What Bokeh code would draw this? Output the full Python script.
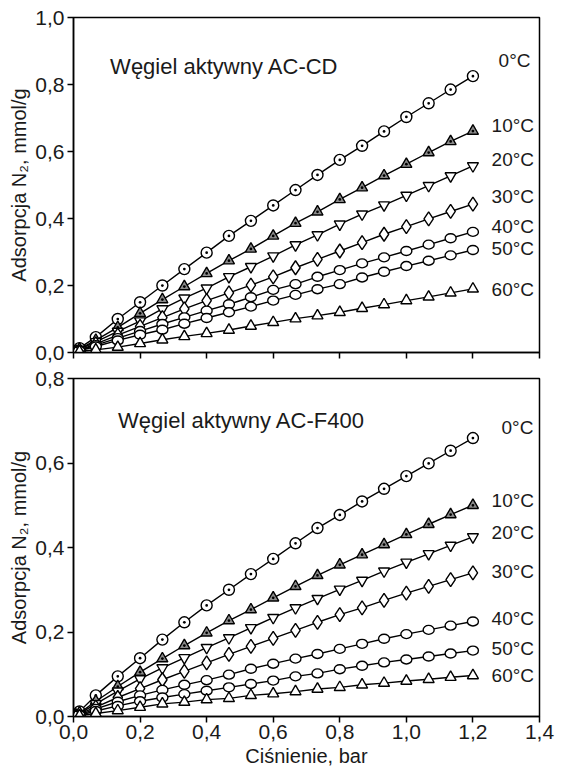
from bokeh.plotting import figure
from bokeh.layouts import column
from bokeh.models import FixedTicker, Label, ColumnDataSource
from bokeh.core.properties import value
from bokeh.embed import file_html
from bokeh.resources import INLINE

# ---------------- data ----------------
P = [0.0, 0.007, 0.018, 0.067, 0.133, 0.2, 0.267, 0.333, 0.4, 0.467, 0.533,
     0.6, 0.667, 0.733, 0.8, 0.867, 0.933, 1.0, 1.067, 1.133, 1.2]

TEMPS = ["0", "10", "20", "30", "40", "50", "60"]

CD_0 = [0, 0.005, 0.013, 0.046, 0.100, 0.150, 0.200, 0.249, 0.298, 0.348, 0.393,
        0.439, 0.485, 0.530, 0.575, 0.617, 0.660, 0.703, 0.744, 0.785, 0.825]
CD_10 = [0, 0.004, 0.010, 0.037, 0.075, 0.117, 0.158, 0.197, 0.236, 0.274, 0.309,
         0.348, 0.386, 0.420, 0.457, 0.492, 0.528, 0.562, 0.597, 0.630, 0.661]
CD_20 = [0, 0.003, 0.009, 0.032, 0.063, 0.094, 0.130, 0.162, 0.192, 0.226, 0.256,
         0.288, 0.321, 0.351, 0.383, 0.413, 0.440, 0.469, 0.498, 0.527, 0.557]
CD_30 = [0, 0.002, 0.007, 0.026, 0.052, 0.078, 0.104, 0.130, 0.155, 0.178, 0.201,
         0.226, 0.253, 0.278, 0.303, 0.328, 0.353, 0.376, 0.399, 0.421, 0.443]
CD_40 = [0, 0.002, 0.006, 0.022, 0.043, 0.064, 0.085, 0.105, 0.125, 0.144, 0.165,
         0.187, 0.204, 0.226, 0.246, 0.266, 0.284, 0.303, 0.322, 0.341, 0.360]
CD_50 = [0, 0.002, 0.005, 0.018, 0.036, 0.053, 0.068, 0.086, 0.103, 0.120, 0.137,
         0.155, 0.172, 0.189, 0.204, 0.224, 0.241, 0.258, 0.274, 0.290, 0.306]
CD_60 = [0, 0.001, 0.003, 0.008, 0.016, 0.027, 0.038, 0.048, 0.057, 0.067, 0.079,
         0.090, 0.101, 0.110, 0.120, 0.132, 0.143, 0.155, 0.166, 0.178, 0.190]

F4_0 = [0, 0.004, 0.012, 0.050, 0.095, 0.138, 0.182, 0.223, 0.263, 0.300, 0.337,
        0.373, 0.410, 0.446, 0.477, 0.509, 0.539, 0.569, 0.599, 0.629, 0.659]
F4_10 = [0, 0.003, 0.008, 0.036, 0.071, 0.105, 0.137, 0.168, 0.198, 0.227, 0.253,
         0.281, 0.308, 0.334, 0.359, 0.383, 0.407, 0.431, 0.455, 0.478, 0.500]
F4_20 = [0, 0.003, 0.007, 0.030, 0.060, 0.089, 0.115, 0.139, 0.163, 0.186, 0.210,
         0.234, 0.257, 0.279, 0.301, 0.322, 0.344, 0.365, 0.385, 0.405, 0.425]
F4_30 = [0, 0.002, 0.006, 0.022, 0.045, 0.066, 0.087, 0.107, 0.127, 0.147, 0.166,
         0.185, 0.204, 0.223, 0.241, 0.257, 0.275, 0.292, 0.308, 0.324, 0.340]
F4_40 = [0, 0.001, 0.004, 0.018, 0.035, 0.050, 0.063, 0.075, 0.086, 0.099, 0.113,
         0.125, 0.137, 0.148, 0.160, 0.172, 0.184, 0.195, 0.205, 0.215, 0.225]
F4_50 = [0, 0.001, 0.003, 0.013, 0.025, 0.036, 0.045, 0.053, 0.061, 0.069, 0.077,
         0.085, 0.095, 0.102, 0.112, 0.120, 0.128, 0.135, 0.142, 0.149, 0.156]
F4_60 = [0, 0.001, 0.002, 0.007, 0.014, 0.022, 0.030, 0.034, 0.040, 0.043, 0.050,
         0.054, 0.059, 0.065, 0.069, 0.075, 0.079, 0.084, 0.088, 0.093, 0.097]

X_TICKS = [0.0, 0.2, 0.4, 0.6, 0.8, 1.0, 1.2, 1.4]
X_TICK_LABELS = ["0,0", "0,2", "0,4", "0,6", "0,8", "1,0", "1,2", "1,4"]
Y_TICKS_TOP = [0.0, 0.2, 0.4, 0.6, 0.8, 1.0]
Y_LABELS_TOP = ["0,0", "0,2", "0,4", "0,6", "0,8", "1,0"]
Y_TICKS_BOT = [0.0, 0.2, 0.4, 0.6, 0.8]
Y_LABELS_BOT = ["0,0", "0,2", "0,4", "0,6", "0,8"]

TITLE_TOP = "Węgiel aktywny AC-CD"
TITLE_BOT = "Węgiel aktywny AC-F400"
Y_TITLE = "Adsorpcja N₂, mmol/g"
X_TITLE = "Ciśnienie, bar"

# label anchor positions (annotation placement)
LAB_X_TOP = [1.277, 1.256, 1.256, 1.256, 1.256, 1.256, 1.256]
LAB_Y_TOP = [0.873, 0.679, 0.575, 0.465, 0.376, 0.311, 0.189]
LAB_X_BOT = [1.286, 1.256, 1.256, 1.256, 1.256, 1.256, 1.256]
LAB_Y_BOT = [0.685, 0.511, 0.436, 0.344, 0.231, 0.160, 0.097]

FONT = "Liberation Sans"
INK = "#1a1a1a"


def style(p, yticks, ylabels, show_x):
    p.xgrid.visible = False
    p.ygrid.visible = False
    p.outline_line_color = "black"
    p.outline_line_width = 1.5
    for ax in (p.xaxis[0], p.yaxis[0]):
        ax.axis_line_color = "black"
        ax.axis_line_width = 1.5
        ax.major_tick_line_color = "black"
        ax.major_tick_line_width = 1.5
        ax.major_tick_out = 6
        ax.major_tick_in = 0
        ax.minor_tick_out = 0
        ax.minor_tick_in = 0
        ax.major_label_text_font = FONT
        ax.major_label_text_font_size = "21px"
        ax.major_label_text_color = INK
        ax.axis_label_text_font = FONT
        ax.axis_label_text_font_size = "20px"
        ax.axis_label_text_font_style = "normal"
        ax.axis_label_text_color = INK
    p.xaxis[0].ticker = FixedTicker(ticks=X_TICKS)
    if show_x:
        p.xaxis[0].major_label_overrides = {t: l for t, l in zip(X_TICKS, X_TICK_LABELS)}
        p.xaxis[0].major_label_standoff = 2
        p.xaxis[0].axis_label = X_TITLE
        p.xaxis[0].axis_label_standoff = 3
    else:
        p.xaxis[0].major_label_overrides = {t: "" for t in X_TICKS}
        p.xaxis[0].major_label_text_font_size = "1px"
        p.xaxis[0].major_label_standoff = 0
    p.yaxis[0].ticker = FixedTicker(ticks=yticks)
    p.yaxis[0].major_label_overrides = {t: l for t, l in zip(yticks, ylabels)}
    p.yaxis[0].major_label_standoff = 3
    p.yaxis[0].axis_label = Y_TITLE
    p.yaxis[0].axis_label_standoff = 2


def draw(p, series, lab_x, lab_y):
    kinds = [("circle_dot", "white", 11), ("triangle_dot", "#8a8a8a", 11),
             ("inverted_triangle", "white", 11), ("diamond", "white", 14),
             ("ellipse", "white", 0), ("ellipse", "white", 0),
             ("triangle", "white", 11)]
    for ys, (m, fc, sz) in zip(series, kinds):
        p.line(P, ys, line_color="black", line_width=1.4)
        if m == "ellipse":
            p.ellipse(P, ys, width=11, height=9, width_units="screen",
                      height_units="screen", fill_color=fc, line_color="black",
                      line_width=1.4)
        else:
            p.scatter(P, ys, marker=m, size=sz, fill_color=fc,
                      line_color="black", line_width=1.4)
    src = ColumnDataSource(dict(x=lab_x, y=lab_y, t=[t + "°C" for t in TEMPS]))
    p.text("x", "y", text="t", source=src, text_font=value(FONT),
           text_font_size="19px", text_baseline="middle", text_align="left",
           text_color=INK)


p1 = figure(width=563, height=365, x_range=(0, 1.4), y_range=(0, 1.0),
            output_backend="svg", toolbar_location=None,
            min_border_left=73, min_border_right=24, min_border_top=17,
            min_border_bottom=13, background_fill_color="white")
style(p1, Y_TICKS_TOP, Y_LABELS_TOP, False)
draw(p1, [CD_0, CD_10, CD_20, CD_30, CD_40, CD_50, CD_60], LAB_X_TOP, LAB_Y_TOP)
p1.add_layout(Label(x=0.11, y=0.855, text=TITLE_TOP, text_font=FONT,
                    text_font_size="22px", text_baseline="middle",
                    text_color=INK))

p2 = figure(width=563, height=404, x_range=(0, 1.4), y_range=(0, 0.8),
            output_backend="svg", toolbar_location=None,
            min_border_left=73, min_border_right=24, min_border_top=13,
            min_border_bottom=53, background_fill_color="white")
style(p2, Y_TICKS_BOT, Y_LABELS_BOT, True)
draw(p2, [F4_0, F4_10, F4_20, F4_30, F4_40, F4_50, F4_60], LAB_X_BOT, LAB_Y_BOT)
p2.add_layout(Label(x=0.134, y=0.70, text=TITLE_BOT, text_font=FONT,
                    text_font_size="22px", text_baseline="middle",
                    text_color=INK))

layout = column(p1, p2, spacing=0)
open("out.html", "w").write(file_html(layout, INLINE))
